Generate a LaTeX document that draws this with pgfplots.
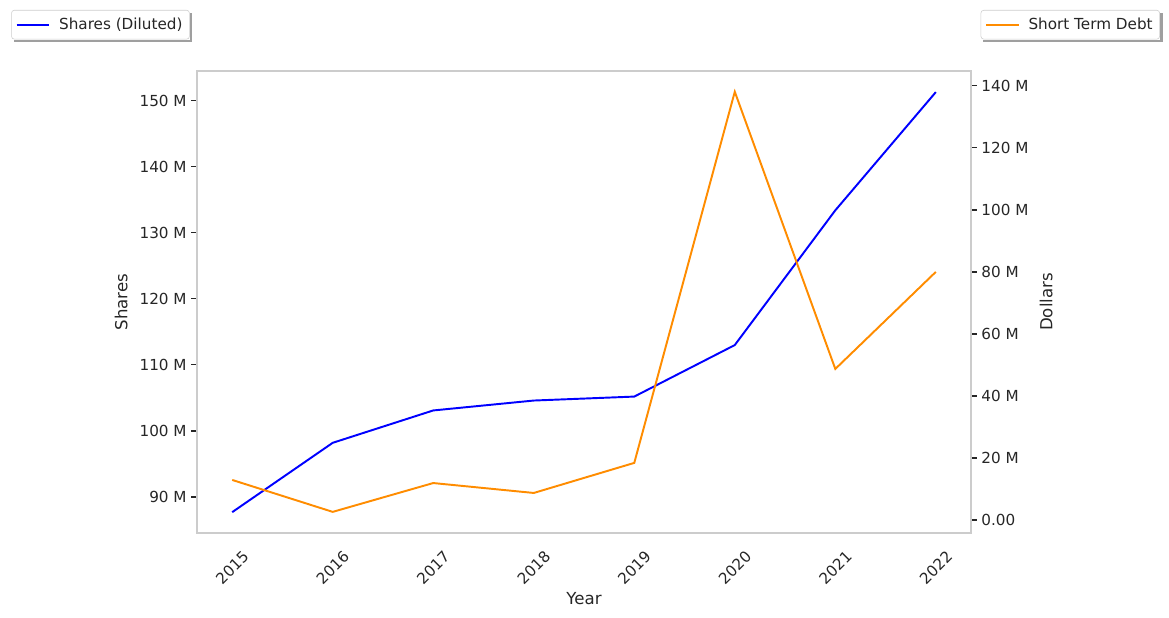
\documentclass[border=0pt]{standalone}
\usepackage{pgfplots}
\pgfplotsset{compat=1.18}
\usepackage{fontspec}
\setmainfont{DejaVu Sans}
\definecolor{shareblue}{RGB}{0,0,255}
\definecolor{debtorange}{RGB}{255,140,0}
\definecolor{framegray}{RGB}{204,204,204}
\definecolor{txt}{RGB}{38,38,38}

\pgfplotsset{
  common/.style={
    scale only axis, width=559.4pt, height=333.9pt,
    at={(0,0)}, anchor=south west,
    xmin=-0.35, xmax=7.35,
    axis line style={framegray, line width=1.8pt},
    tick style={txt, line width=0.9pt},
    tick align=outside, major tick length=4pt,
    tick label style={font=\fontsize{11}{13}\selectfont, text=txt},
    label style={font=\fontsize{12}{14}\selectfont, text=txt},
    /pgf/number format/assume math mode=true,
    legend cell align=left,
    legend image code/.code={\draw[#1, line width=1.4pt] (0pt,0pt) -- (23.5pt,0pt); \path (28pt,0pt);},
    legend style={draw=framegray, fill=white, rounded corners=2pt,
      font=\fontsize{11}{13}\selectfont, text=txt, inner xsep=3pt, inner ysep=3.5pt},
  }
}

\begin{document}
\begin{tikzpicture}
\begin{axis}[common,
    xtick={0,...,7},
    xticklabels={2015,2016,2017,2018,2019,2020,2021,2022},
    xticklabel style={yshift=-21pt, rotate=45, anchor=center},
    x tick style={draw=none},
    xlabel={Year},
    xlabel style={at={(0.5,-0.141)}, anchor=center},
    ymin=84.55, ymax=154.5,
    ytick={90,100,110,120,130,140,150},
    yticklabels={90 M,100 M,110 M,120 M,130 M,140 M,150 M},
    ytick pos=left,
    ylabel={Shares},
    ylabel style={at={(-0.098,0.5)}, anchor=center},
    legend style={at={(-0.240,1.132)}, anchor=north west, name=legA},
]
\addplot[shareblue, line width=1.4pt] coordinates {
  (0,87.7) (1,98.2) (2,103.1) (3,104.6) (4,105.2) (5,113.0) (6,133.4) (7,151.3)
};
\legend{Shares (Diluted)}
\end{axis}

\begin{axis}[common,
    xtick=\empty,
    ymin=-4.2, ymax=144.8,
    ytick={0,20,40,60,80,100,120,140},
    yticklabels={0.00,20 M,40 M,60 M,80 M,100 M,120 M,140 M},
    ytick pos=right,
    yticklabel pos=right,
    ylabel={Dollars},
    ylabel style={at={(1.097,0.5)}, anchor=center, rotate=0},
    legend style={at={(1.244,1.132)}, anchor=north east, name=legB},
]
\addplot[debtorange, line width=1.4pt] coordinates {
  (0,12.9) (1,2.6) (2,11.9) (3,8.7) (4,18.4) (5,138.1) (6,48.7) (7,80.0)
};
\legend{Short Term Debt}
\end{axis}
% legend shadows: a strip on the right and one below each box
\foreach \L in {legA,legB}{
  \fill[gray!75]
    ([xshift=0.4pt,yshift=-2pt]\L.north east) rectangle ([xshift=2pt,yshift=-2pt]\L.south east);
  \fill[gray!75]
    ([xshift=2pt,yshift=-0.4pt]\L.south west) rectangle ([xshift=2pt,yshift=-2pt]\L.south east);
}
\pgfresetboundingbox
\path[use as bounding box] (-142.4pt,-61.4pt) rectangle (702.5pt,385.2pt);
\end{tikzpicture}
\end{document}
